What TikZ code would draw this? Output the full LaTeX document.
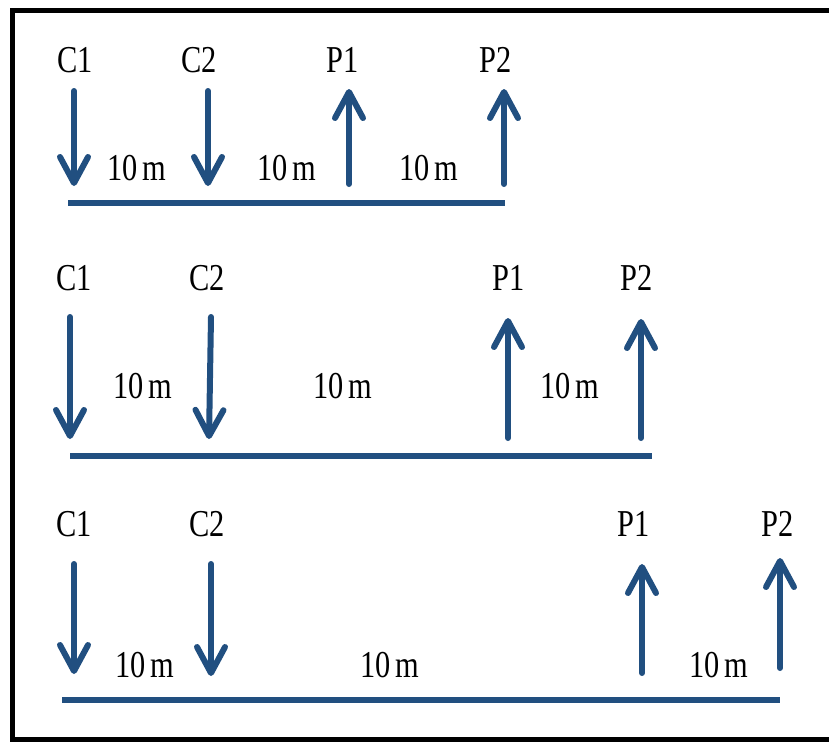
\documentclass[tikz,border=0pt]{standalone}
\usepackage{fontspec}
\usetikzlibrary{arrows.meta}
\setmainfont{Liberation Serif}
\definecolor{pipeblue}{RGB}{33,79,128}
\begin{document}
\begin{tikzpicture}[x=1pt,y=-1pt,
  lbl/.style={anchor=base,inner sep=0pt,xscale=0.8,font=\fontsize{38}{40}\selectfont},
  flow/.style={draw=pipeblue,line width=6pt,line cap=round,
    -{Straight Barb[length=26pt,width=28pt,line width=6pt,round]}},
  pipe/.style={draw=pipeblue,line width=6pt},
  framebar/.style={fill=black,draw=none}]
\useasboundingbox (0,0) rectangle (832,742);
% outer frame: top, left and bottom bars
\coordinate (ftl) at (10,8);
\coordinate (ftr) at (829,13);
\coordinate (fll) at (10,8);
\coordinate (flr) at (15,742);
\coordinate (fbl) at (10,737);
\coordinate (fbr) at (829,742);
\path[framebar] (ftl) rectangle (ftr);
\path[framebar] (fll) rectangle (flr);
\path[framebar] (fbl) rectangle (fbr);

% ---- layout 1 ----
\node[lbl] (c1a) at (75,72) {C1};
\node[lbl] (c2a) at (199,72) {C2};
\node[lbl] (p1a) at (343,72) {P1};
\node[lbl] (p2a) at (496,72) {P2};
\node[lbl] (da1) at (137,180) {10\,m};
\node[lbl] (da2) at (287,180) {10\,m};
\node[lbl] (da3) at (429,180) {10\,m};
\coordinate (c1at) at (74,91);  \coordinate (c1ab) at (74,186);
\coordinate (c2at) at (208,91); \coordinate (c2ab) at (208,186);
\coordinate (p1ab) at (349,184); \coordinate (p1at) at (349,89);
\coordinate (p2ab) at (504,184); \coordinate (p2at) at (504,89);
\coordinate (la0) at (68,203);  \coordinate (la1) at (505,203);
\draw[flow] (c1at) -- (c1ab);
\draw[flow] (c2at) -- (c2ab);
\draw[flow] (p1ab) -- (p1at);
\draw[flow] (p2ab) -- (p2at);
\draw[pipe] (la0) -- (la1);

% ---- layout 2 ----
\node[lbl] (c1b) at (74,290) {C1};
\node[lbl] (c2b) at (207,290) {C2};
\node[lbl] (p1b) at (509,290) {P1};
\node[lbl] (p2b) at (637,290) {P2};
\node[lbl] (db1) at (143,398) {10\,m};
\node[lbl] (db2) at (343,398) {10\,m};
\node[lbl] (db3) at (570,398) {10\,m};
\coordinate (c1bt) at (70,317);  \coordinate (c1bb) at (70,439);
\coordinate (c2bt) at (211,317); \coordinate (c2bb) at (209,439);
\coordinate (p1bb) at (508,438); \coordinate (p1bt) at (508,318);
\coordinate (p2bb) at (641,438); \coordinate (p2bt) at (641,319);
\coordinate (lb0) at (70,456);  \coordinate (lb1) at (652,456);
\draw[flow] (c1bt) -- (c1bb);
\draw[flow] (c2bt) -- (c2bb);
\draw[flow] (p1bb) -- (p1bt);
\draw[flow] (p2bb) -- (p2bt);
\draw[pipe] (lb0) -- (lb1);

% ---- layout 3 ----
\node[lbl] (c1c) at (74,536) {C1};
\node[lbl] (c2c) at (207,536) {C2};
\node[lbl] (p1c) at (634,536) {P1};
\node[lbl] (p2c) at (778,536) {P2};
\node[lbl] (dc1) at (145,677) {10\,m};
\node[lbl] (dc2) at (390,677) {10\,m};
\node[lbl] (dc3) at (719,677) {10\,m};
\coordinate (c1ct) at (74,564);  \coordinate (c1cb) at (74,674);
\coordinate (c2ct) at (211,564); \coordinate (c2cb) at (211,676);
\coordinate (p1cb) at (642,673); \coordinate (p1ct) at (642,564);
\coordinate (p2cb) at (780,668); \coordinate (p2ct) at (780,558);
\coordinate (lc0) at (62,700);  \coordinate (lc1) at (780,700);
\draw[flow] (c1ct) -- (c1cb);
\draw[flow] (c2ct) -- (c2cb);
\draw[flow] (p1cb) -- (p1ct);
\draw[flow] (p2cb) -- (p2ct);
\draw[pipe] (lc0) -- (lc1);
\end{tikzpicture}
\end{document}
